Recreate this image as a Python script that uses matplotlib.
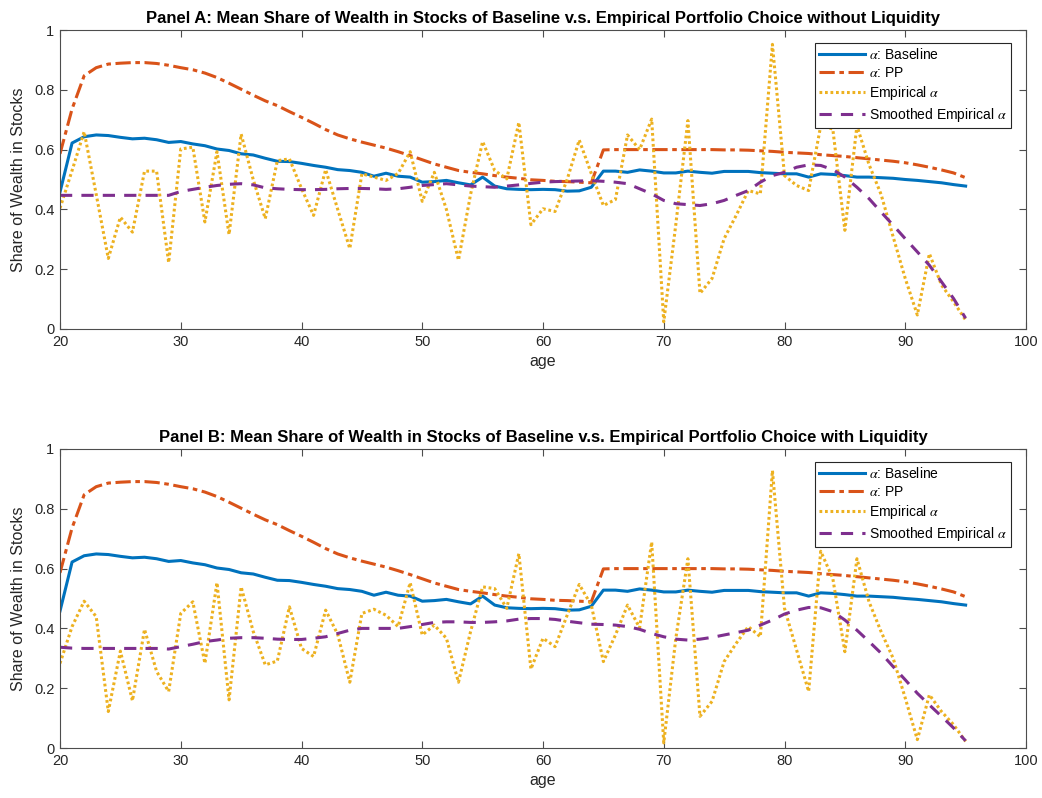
import numpy as np
import matplotlib
matplotlib.use("Agg")
import matplotlib.pyplot as plt

plt.rcParams['font.family'] = ['Liberation Sans', 'DejaVu Sans']
plt.rcParams['mathtext.fontset'] = 'stix'

ages = list(range(20, 96))

baseline = [0.458, 0.622, 0.643, 0.649, 0.647, 0.641, 0.636, 0.638, 0.633, 0.624,
            0.627, 0.619, 0.613, 0.602, 0.597, 0.586, 0.582, 0.571, 0.561, 0.560,
            0.554, 0.547, 0.541, 0.533, 0.530, 0.524, 0.511, 0.521, 0.511, 0.508,
            0.491, 0.493, 0.497, 0.489, 0.482, 0.508, 0.478, 0.469, 0.467, 0.466,
            0.467, 0.466, 0.461, 0.462, 0.474, 0.528, 0.528, 0.524, 0.532, 0.528,
            0.522, 0.522, 0.528, 0.524, 0.521, 0.527, 0.527, 0.527, 0.523, 0.521,
            0.519, 0.519, 0.508, 0.519, 0.517, 0.513, 0.508, 0.508, 0.506, 0.504,
            0.500, 0.497, 0.493, 0.489, 0.483, 0.478]

pp = [0.586, 0.736, 0.847, 0.874, 0.886, 0.889, 0.891, 0.891, 0.888, 0.882,
      0.874, 0.867, 0.856, 0.841, 0.822, 0.802, 0.782, 0.763, 0.747, 0.727,
      0.708, 0.688, 0.667, 0.649, 0.636, 0.625, 0.615, 0.605, 0.593, 0.580,
      0.566, 0.552, 0.541, 0.530, 0.524, 0.519, 0.513, 0.508, 0.504, 0.499,
      0.497, 0.494, 0.493, 0.491, 0.489, 0.599, 0.600, 0.600, 0.600, 0.600,
      0.600, 0.600, 0.600, 0.600, 0.600, 0.599, 0.599, 0.598, 0.596, 0.594,
      0.591, 0.589, 0.587, 0.583, 0.580, 0.577, 0.573, 0.569, 0.565, 0.561,
      0.556, 0.549, 0.541, 0.532, 0.522, 0.506]

emp_a = [0.404, 0.530, 0.660, 0.450, 0.236, 0.374, 0.324, 0.528, 0.528, 0.222,
         0.602, 0.608, 0.358, 0.593, 0.316, 0.652, 0.500, 0.369, 0.563, 0.569,
         0.470, 0.380, 0.533, 0.400, 0.269, 0.519, 0.508, 0.497, 0.520, 0.593,
         0.427, 0.524, 0.400, 0.230, 0.450, 0.627, 0.530, 0.502, 0.691, 0.349,
         0.402, 0.393, 0.500, 0.632, 0.520, 0.413, 0.433, 0.649, 0.600, 0.702,
         0.024, 0.350, 0.697, 0.119, 0.169, 0.302, 0.380, 0.463, 0.452, 0.952,
         0.513, 0.480, 0.463, 0.680, 0.669, 0.330, 0.680, 0.550, 0.450, 0.308,
         0.169, 0.047, 0.252, 0.147, 0.091, 0.030]

smooth_a = [0.447, 0.447, 0.447, 0.447, 0.447, 0.447, 0.447, 0.447, 0.447, 0.447,
            0.460, 0.467, 0.474, 0.480, 0.484, 0.486, 0.482, 0.472, 0.469, 0.467,
            0.466, 0.466, 0.467, 0.469, 0.470, 0.470, 0.469, 0.467, 0.469, 0.474,
            0.480, 0.483, 0.486, 0.482, 0.478, 0.476, 0.474, 0.478, 0.482, 0.487,
            0.491, 0.493, 0.494, 0.495, 0.496, 0.494, 0.491, 0.486, 0.469, 0.452,
            0.430, 0.419, 0.416, 0.413, 0.419, 0.430, 0.447, 0.463, 0.491, 0.513,
            0.524, 0.541, 0.549, 0.547, 0.533, 0.508, 0.474, 0.436, 0.391, 0.347,
            0.302, 0.258, 0.213, 0.158, 0.102, 0.036]

emp_b = [0.283, 0.406, 0.491, 0.439, 0.122, 0.324, 0.158, 0.397, 0.256, 0.189,
         0.450, 0.489, 0.283, 0.553, 0.161, 0.539, 0.390, 0.278, 0.291, 0.472,
         0.333, 0.306, 0.461, 0.380, 0.220, 0.450, 0.464, 0.444, 0.406, 0.553,
         0.378, 0.411, 0.367, 0.220, 0.389, 0.539, 0.533, 0.467, 0.650, 0.264,
         0.367, 0.339, 0.444, 0.547, 0.478, 0.289, 0.378, 0.478, 0.402, 0.689,
         0.017, 0.367, 0.633, 0.106, 0.156, 0.289, 0.350, 0.406, 0.372, 0.928,
         0.467, 0.328, 0.189, 0.658, 0.567, 0.322, 0.633, 0.489, 0.389, 0.300,
         0.167, 0.028, 0.178, 0.122, 0.078, 0.022]

smooth_b = [0.337, 0.334, 0.333, 0.333, 0.333, 0.333, 0.333, 0.333, 0.333, 0.331,
            0.339, 0.347, 0.356, 0.361, 0.367, 0.369, 0.369, 0.367, 0.364, 0.363,
            0.363, 0.367, 0.372, 0.383, 0.394, 0.400, 0.400, 0.400, 0.400, 0.406,
            0.413, 0.420, 0.422, 0.422, 0.420, 0.420, 0.422, 0.425, 0.431, 0.433,
            0.433, 0.430, 0.424, 0.419, 0.414, 0.413, 0.411, 0.406, 0.397, 0.383,
            0.372, 0.364, 0.361, 0.364, 0.370, 0.378, 0.386, 0.394, 0.411, 0.428,
            0.448, 0.461, 0.470, 0.469, 0.456, 0.428, 0.394, 0.356, 0.317, 0.272,
            0.228, 0.183, 0.144, 0.106, 0.067, 0.024]

titles = ["Panel A: Mean Share of Wealth in Stocks of Baseline v.s. Empirical Portfolio Choice without Liquidity",
          "Panel B: Mean Share of Wealth in Stocks of Baseline v.s. Empirical Portfolio Choice with Liquidity"]
labels = [r"$\alpha$: Baseline", r"$\alpha$: PP", r"Empirical $\alpha$", r"Smoothed Empirical $\alpha$"]
xticks = [20, 30, 40, 50, 60, 70, 80, 90, 100]
yticks = [0, 0.2, 0.4, 0.6, 0.8, 1]
ytick_labels = ["0", "0.2", "0.4", "0.6", "0.8", "1"]

c_blue = '#0072BD'
c_orange = '#D95319'
c_yellow = '#EDB120'
c_purple = '#7E2F8E'

W, H = 1042, 798
fig = plt.figure(figsize=(W / 100, H / 100), dpi=100)
rects = [(60, 30, 1026, 329), (60, 449, 1026, 748)]
axis_col = '#4d4d4d'

for i, (emp, smo) in enumerate([(emp_a, smooth_a), (emp_b, smooth_b)]):
    x0, y0, x1, y1 = rects[i]
    ax = fig.add_axes([x0 / W, 1 - y1 / H, (x1 - x0) / W, (y1 - y0) / H])
    ax.plot(ages, baseline, color=c_blue, lw=2.2, ls='-', label=labels[0])
    ax.plot(ages, pp, color=c_orange, lw=2.2, ls=(0, (5, 1.5, 1.5, 1.5)), label=labels[1])
    ax.plot(ages, emp, color=c_yellow, lw=2.2, ls=(0, (0.9, 0.9)), label=labels[2])
    ax.plot(ages, smo, color=c_purple, lw=2.2, ls=(0, (4, 3)), label=labels[3])
    ax.set_xlim(20, 100)
    ax.set_ylim(0, 1)
    ax.set_xticks(xticks)
    ax.set_xticklabels([str(t) for t in xticks])
    ax.set_yticks(yticks)
    ax.set_yticklabels(ytick_labels)
    ax.tick_params(direction='in', length=5, width=0.8, colors=axis_col,
                   labelcolor='#262626', labelsize=10.5, top=True, right=True, pad=4)
    for s in ax.spines.values():
        s.set_color(axis_col)
        s.set_linewidth(0.8)
    ax.set_xlabel('age', fontsize=11.5, color='#262626', labelpad=4)
    ax.set_ylabel('Share of Wealth in Stocks', fontsize=11.5, color='#262626', labelpad=6)
    ax.set_title(titles[i], fontsize=12.0, fontweight='bold', color='black', pad=5)
    leg = ax.legend(loc='upper right', bbox_to_anchor=((1011 - 60) / 966, (329 - 43) / 299),
                    fontsize=10, frameon=True, fancybox=False, edgecolor='#262626',
                    framealpha=1, handlelength=3.3, handletextpad=0.3, labelspacing=0.28,
                    borderpad=0.3, borderaxespad=0.0)
    leg.get_frame().set_linewidth(0.8)

fig.savefig('out.png', dpi=100)
